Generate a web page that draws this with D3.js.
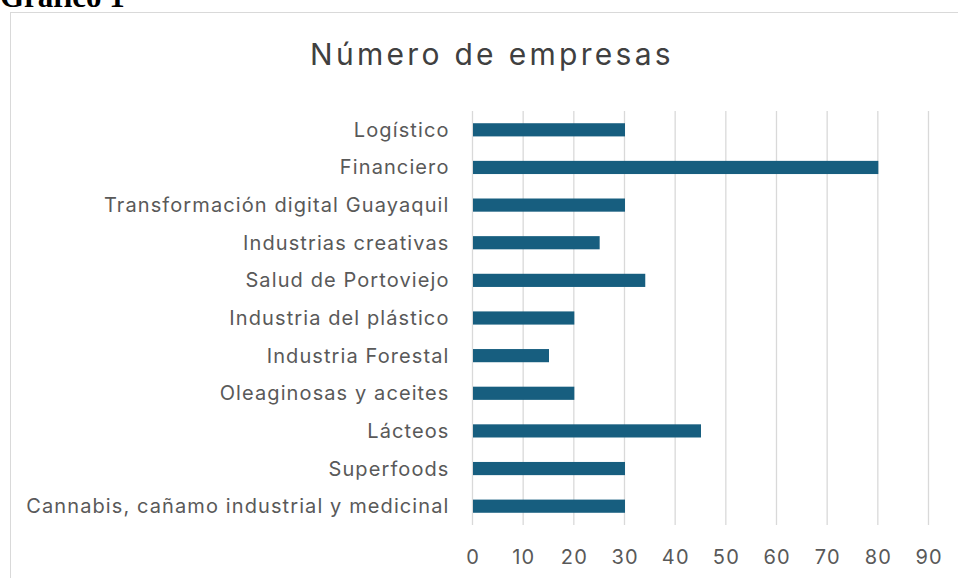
<!DOCTYPE html>
<html>
<head>
<meta charset="utf-8">
<script src="https://cdn.jsdelivr.net/npm/d3@7"></script>
<style>
body { margin: 0; background: #fff; }
svg { display: block; }
</style>
</head>
<body>
<svg width="958" height="578"></svg>
<script>
var categories = ["Logístico", "Financiero", "Transformación digital Guayaquil", "Industrias creativas",
  "Salud de Portoviejo", "Industria del plástico", "Industria Forestal", "Oleaginosas y aceites",
  "Lácteos", "Superfoods", "Cannabis, cañamo industrial y medicinal"];
var values = [30, 80, 30, 25, 34, 20, 15, 20, 45, 30, 30];
var ticks = [0, 10, 20, 30, 40, 50, 60, 70, 80, 90];

var svg = d3.select("svg");
var font = "Inter, 'Open Sans', sans-serif";

// caption above the chart box, mostly cut off at the top
svg.append("text")
  .attr("x", 0).attr("y", 7)
  .attr("font-family", "'Liberation Serif', serif")
  .attr("font-weight", "bold")
  .attr("font-size", 31)
  .attr("fill", "#000")
  .text("Gráfico 1");

// chart border
svg.append("rect")
  .attr("x", 10.5).attr("y", 12.5)
  .attr("width", 1000).attr("height", 1000)
  .attr("fill", "none")
  .attr("stroke", "#d9d9d9")
  .attr("stroke-width", 1);

svg.append("text")
  .attr("x", 492).attr("y", 65)
  .attr("text-anchor", "middle")
  .attr("font-family", font)
  .attr("font-size", 30)
  .attr("letter-spacing", 3.3)
  .attr("fill", "#404040")
  .text("Número de empresas");

var x = d3.scaleLinear().domain([0, 90]).range([472.5, 928.5]);
var y = d3.scaleBand().domain(categories).range([111, 525]).paddingInner(0.65).paddingOuter(0.325);

// gridlines
svg.append("g").selectAll("line")
  .data(ticks).enter().append("line")
  .attr("x1", function(d) { return x(d); })
  .attr("x2", function(d) { return x(d); })
  .attr("y1", 111).attr("y2", 525)
  .attr("stroke", "#d9d9d9")
  .attr("stroke-width", 1.3);

// bars
svg.append("g").selectAll("rect")
  .data(values).enter().append("rect")
  .attr("x", x(0) + 0.5)
  .attr("y", function(d, i) { return y(categories[i]); })
  .attr("width", function(d) { return x(d) - x(0); })
  .attr("height", y.bandwidth())
  .attr("fill", "#175e7f");

// category labels
svg.append("g").selectAll("text")
  .data(categories).enter().append("text")
  .attr("x", 449.5)
  .attr("y", function(d) { return y(d) + y.bandwidth() / 2; })
  .attr("dy", "0.35em")
  .attr("text-anchor", "end")
  .attr("font-family", font)
  .attr("font-size", 20)
  .attr("letter-spacing", 1.1)
  .attr("fill", "#595959")
  .text(function(d) { return d; });

// tick labels
svg.append("g").selectAll("text")
  .data(ticks).enter().append("text")
  .attr("x", function(d) { return x(d) + 0.6; })
  .attr("y", 557)
  .attr("dy", "0.35em")
  .attr("text-anchor", "middle")
  .attr("font-family", font)
  .attr("font-size", 20)
  .attr("letter-spacing", 1.2)
  .attr("fill", "#595959")
  .text(function(d) { return d; });
</script>
</body>
</html>
